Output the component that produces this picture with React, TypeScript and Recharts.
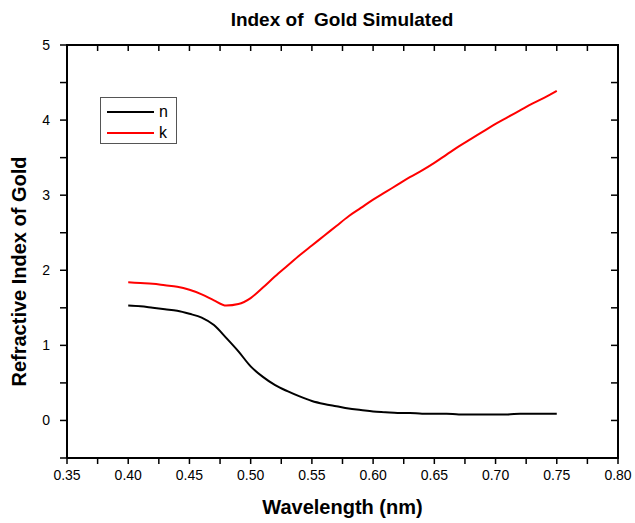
import { LineChart, Line, XAxis, YAxis, Legend } from "recharts"

// wavelength in nm (as plotted, 0.40 .. 0.75)
const wavelength = [
  0.4, 0.41, 0.42, 0.43, 0.44, 0.45, 0.46, 0.47, 0.48, 0.49, 0.5, 0.51,
  0.52, 0.53, 0.54, 0.55, 0.56, 0.57, 0.58, 0.59, 0.6, 0.61, 0.62, 0.63,
  0.64, 0.65, 0.66, 0.67, 0.68, 0.69, 0.7, 0.71, 0.72, 0.73, 0.74, 0.75,
]

const nValues = [
  1.53, 1.52, 1.5, 1.48, 1.46, 1.42, 1.37, 1.27, 1.1, 0.92, 0.72, 0.58,
  0.47, 0.39, 0.32, 0.26, 0.22, 0.19, 0.16, 0.14, 0.12, 0.11, 0.1, 0.1,
  0.09, 0.09, 0.09, 0.08, 0.08, 0.08, 0.08, 0.08, 0.09, 0.09, 0.09, 0.09,
]

const kValues = [
  1.84, 1.83, 1.82, 1.8, 1.78, 1.74, 1.68, 1.6, 1.53, 1.55, 1.63, 1.77,
  1.92, 2.06, 2.2, 2.33, 2.46, 2.59, 2.72, 2.83, 2.94, 3.04, 3.14, 3.24,
  3.33, 3.43, 3.54, 3.65, 3.75, 3.85, 3.95, 4.04, 4.13, 4.22, 4.3, 4.39,
]

const seriesOrder = ["n", "k"]

const xDomain = [0.35, 0.8]
const yDomain = [-0.5, 5]
const xTicks = [
  0.35, 0.375, 0.4, 0.425, 0.45, 0.475, 0.5, 0.525, 0.55, 0.575, 0.6, 0.625,
  0.65, 0.675, 0.7, 0.725, 0.75, 0.775, 0.8,
]
const yTicks = [-0.5, 0, 0.5, 1, 1.5, 2, 2.5, 3, 3.5, 4, 4.5, 5]

const data = wavelength.map((wl, i) => ({ wl, n: nValues[i], k: kValues[i] }))

const FONT = "'Liberation Sans', Arial, sans-serif"

const xLabel = (v: number) => (Math.round(v * 1000) % 50 === 0 ? v.toFixed(2) : "")
const yLabel = (v: number) => (Number.isInteger(v) ? String(v) : "")
const noLabel = () => ""

function renderLegend(props: any) {
  const payload = [...(props.payload || [])].sort(
    (a: any, b: any) => seriesOrder.indexOf(a.value) - seriesOrder.indexOf(b.value)
  )
  return (
    <div
      style={{
        width: 77,
        height: 47,
        border: "1.5px solid #555",
        boxSizing: "border-box",
        background: "#fff",
        padding: "3px 0 0 6px",
      }}
    >
      {payload.map((entry: any) => (
        <div key={entry.value} style={{ display: "flex", alignItems: "center", height: 21 }}>
          <span style={{ display: "inline-block", width: 47, height: 2, background: entry.color }} />
          <span style={{ marginLeft: 5, fontSize: 16, fontFamily: FONT, color: "#000", lineHeight: "16px" }}>
            {entry.value}
          </span>
        </div>
      ))}
    </div>
  )
}

export default function App() {
  const axisLine = { stroke: "#000", strokeWidth: 2 }
  const tickLine = { stroke: "#000", strokeWidth: 1.5 }
  const tickStyle = { fill: "#000", fontSize: 14, fontFamily: FONT }

  return (
    <div style={{ position: "absolute", left: 0, top: 0, width: 635, height: 523, background: "#fff" }}>
      <div
        style={{
          position: "absolute",
          left: 67,
          top: 10,
          width: 550,
          textAlign: "center",
          fontFamily: FONT,
          fontWeight: "bold",
          fontSize: 19,
          lineHeight: "19px",
          color: "#000",
        }}
      >
        Index of&nbsp; Gold Simulated
      </div>
      <LineChart width={635} height={523} data={data} margin={{ top: 44, right: 16, left: 0, bottom: 0 }}>
        <XAxis
          xAxisId="bottom"
          dataKey="wl"
          type="number"
          domain={xDomain}
          ticks={xTicks}
          interval={0}
          tickFormatter={xLabel}
          height={65}
          tickSize={6}
          tickMargin={6}
          axisLine={axisLine}
          tickLine={tickLine}
          tick={tickStyle}
          allowDataOverflow
          label={{
            value: "Wavelength (nm)",
            position: "insideBottom",
            offset: 9,
            style: { fontFamily: FONT, fontWeight: "bold", fontSize: 20, fill: "#000" },
          }}
        />
        {/* top edge: ticks pointing inward (negative tick size) */}
        <XAxis
          xAxisId="top"
          orientation="top"
          dataKey="wl"
          type="number"
          domain={xDomain}
          ticks={xTicks}
          interval={0}
          height={1}
          tickFormatter={noLabel}
          tickSize={-6}
          axisLine={axisLine}
          tickLine={tickLine}
          tick={tickStyle}
          allowDataOverflow
        />
        <YAxis
          yAxisId="left"
          type="number"
          domain={yDomain}
          ticks={yTicks}
          interval={0}
          tickFormatter={yLabel}
          width={67}
          tickSize={7}
          tickMargin={10}
          axisLine={axisLine}
          tickLine={tickLine}
          tick={tickStyle}
          allowDataOverflow
          label={{
            value: "Refractive Index of Gold",
            angle: -90,
            position: "center",
            dx: -15,
            dy: 20,
            style: { fontFamily: FONT, fontWeight: "bold", fontSize: 20, fill: "#000", textAnchor: "middle" },
          }}
        />
        {/* right edge: ticks pointing inward */}
        <YAxis
          yAxisId="right"
          orientation="right"
          type="number"
          domain={yDomain}
          ticks={yTicks}
          interval={0}
          width={1}
          tickFormatter={noLabel}
          tickSize={-7}
          axisLine={axisLine}
          tickLine={tickLine}
          tick={tickStyle}
          allowDataOverflow
        />
        <Legend
          layout="vertical"
          align="center"
          verticalAlign="middle"
          content={renderLegend}
          wrapperStyle={{ left: 100, top: 97, width: 77, height: 47 }}
        />
        {/* n on top/right axes, k on bottom/left: both pairs share the same fixed domains */}
        <Line
          xAxisId="top"
          yAxisId="right"
          type="monotone"
          dataKey="n"
          name="n"
          stroke="#000"
          strokeWidth={2}
          dot={false}
          isAnimationActive={false}
        />
        <Line
          xAxisId="bottom"
          yAxisId="left"
          type="monotone"
          dataKey="k"
          name="k"
          stroke="#ff0000"
          strokeWidth={2}
          dot={false}
          isAnimationActive={false}
        />
      </LineChart>
      {/* top and right frame edges of the plot box */}
      <div
        style={{
          position: "absolute",
          left: 66,
          top: 44,
          width: 553,
          height: 415,
          boxSizing: "border-box",
          borderTop: "2px solid #000",
          borderRight: "2px solid #000",
          pointerEvents: "none",
        }}
      />
    </div>
  )
}
